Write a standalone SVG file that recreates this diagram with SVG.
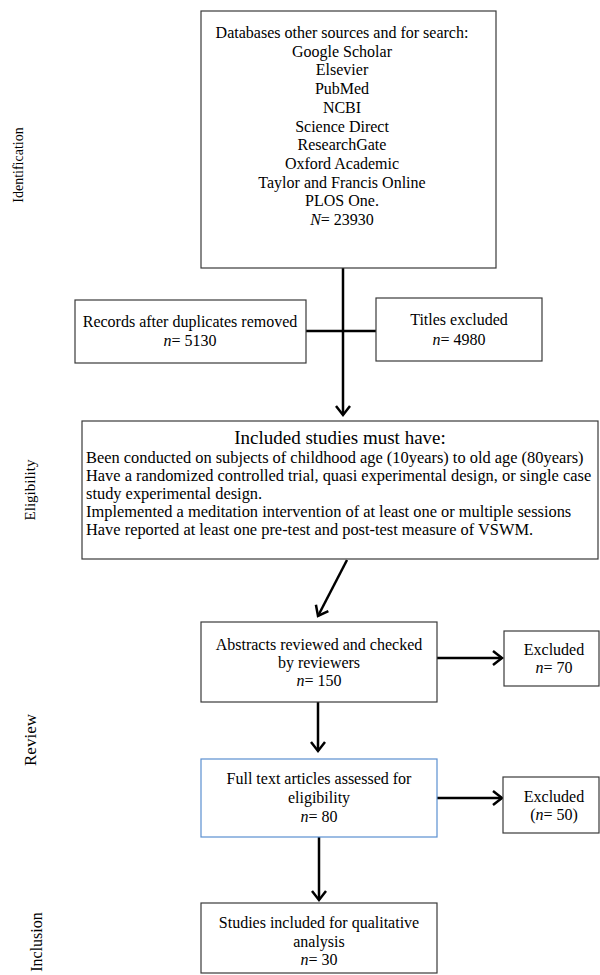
<svg xmlns="http://www.w3.org/2000/svg" width="600" height="975" viewBox="0 0 600 975">
<style>
text{font-family:"Liberation Serif","Times New Roman",serif;fill:#000;}
.t{font-size:16px;text-anchor:middle;}
.l{font-size:16.4px;}
.h{font-size:19px;text-anchor:middle;}
.side{text-anchor:middle;}
.box{fill:#fff;stroke:#3a3a3a;stroke-width:1.2;}
.blue{fill:#fff;stroke:#5b8fd0;stroke-width:1.2;}
.c{stroke:#000;stroke-width:2.5;fill:none;}
</style>
<defs>
<marker id="arr" markerUnits="userSpaceOnUse" markerWidth="14" markerHeight="18" viewBox="0 0 14 18" refX="11" refY="9" orient="auto">
<path d="M2,2 L11,9 L2,16" fill="none" stroke="#000" stroke-width="2.5"/>
</marker>
</defs>
<rect width="600" height="975" fill="#fff"/>
<g id="labels">
<text class="side" font-size="14" transform="translate(23,165) rotate(-90)">Identification</text>
<text class="side" font-size="15" transform="translate(35,490) rotate(-90)">Eligibility</text>
<text class="side" font-size="17" transform="translate(36,740) rotate(-90)">Review</text>
<text class="side" font-size="16" transform="translate(42,942) rotate(-90)">Inclusion</text>
</g>
<g id="connectors">
<line class="c" x1="343" y1="268" x2="343" y2="415" marker-end="url(#arr)"/>
<line class="c" x1="306" y1="331" x2="376" y2="331"/>
<line class="c" x1="347" y1="560" x2="318" y2="616" marker-end="url(#arr)"/>
<line class="c" x1="437" y1="658" x2="502" y2="658" marker-end="url(#arr)"/>
<line class="c" x1="318" y1="702" x2="318" y2="751" marker-end="url(#arr)"/>
<line class="c" x1="437" y1="798" x2="502" y2="798" marker-end="url(#arr)"/>
<line class="c" x1="319" y1="837" x2="319" y2="900" marker-end="url(#arr)"/>
</g>
<g id="n-databases">
<rect class="box" x="201" y="11" width="295" height="257"/>
<text class="t" x="342" y="38">Databases other sources and for search:</text>
<text class="t" x="342" y="56.7">Google Scholar</text>
<text class="t" x="342" y="75.4">Elsevier</text>
<text class="t" x="342" y="94.1">PubMed</text>
<text class="t" x="342" y="112.8">NCBI</text>
<text class="t" x="342" y="131.5">Science Direct</text>
<text class="t" x="342" y="150.2">ResearchGate</text>
<text class="t" x="342" y="168.9">Oxford Academic</text>
<text class="t" x="342" y="187.6">Taylor and Francis Online</text>
<text class="t" x="342" y="206.3">PLOS One.</text>
<text class="t" x="342" y="225"><tspan font-style="italic">N</tspan>= 23930</text>
</g>
<g id="n-records">
<rect class="box" x="75" y="300" width="231" height="63"/>
<text class="t" x="190" y="327">Records after duplicates removed</text>
<text class="t" x="190" y="346"><tspan font-style="italic">n</tspan>= 5130</text>
</g>
<g id="n-titles">
<rect class="box" x="376" y="298" width="166" height="63"/>
<text class="t" x="459" y="325">Titles excluded</text>
<text class="t" x="459" y="345"><tspan font-style="italic">n</tspan>= 4980</text>
</g>
<g id="n-eligibility">
<rect class="box" x="82" y="421" width="516" height="138"/>
<text class="h" x="340" y="444">Included studies must have:</text>
<text class="l" x="86" y="463">Been conducted on subjects of childhood age (10years) to old age (80years)</text>
<text class="l" x="86" y="481">Have a randomized controlled trial, quasi experimental design, or single case</text>
<text class="l" x="86" y="499">study experimental design.</text>
<text class="l" x="86" y="517">Implemented a meditation intervention of at least one or multiple sessions</text>
<text class="l" x="86" y="535">Have reported at least one pre-test and post-test measure of VSWM.</text>
</g>
<g id="n-abstracts">
<rect class="box" x="201" y="622" width="236" height="80"/>
<text class="t" x="319" y="650">Abstracts reviewed and checked</text>
<text class="t" x="319" y="668">by reviewers</text>
<text class="t" x="319" y="686"><tspan font-style="italic">n</tspan>= 150</text>
</g>
<g id="n-excluded70">
<rect class="box" x="504" y="631" width="95" height="55"/>
<text class="t" x="554" y="655">Excluded</text>
<text class="t" x="554" y="673"><tspan font-style="italic">n</tspan>= 70</text>
</g>
<g id="n-fulltext">
<rect class="blue" x="201" y="759" width="236" height="78"/>
<text class="t" x="319" y="784">Full text articles assessed for</text>
<text class="t" x="319" y="803">eligibility</text>
<text class="t" x="319" y="822"><tspan font-style="italic">n</tspan>= 80</text>
</g>
<g id="n-excluded50">
<rect class="box" x="503" y="777" width="96" height="56"/>
<text class="t" x="554" y="802">Excluded</text>
<text class="t" x="554" y="820">(<tspan font-style="italic">n</tspan>= 50)</text>
</g>
<g id="n-studies">
<rect class="box" x="201" y="903" width="236" height="70"/>
<text class="t" x="319" y="928">Studies included for qualitative</text>
<text class="t" x="319" y="947">analysis</text>
<text class="t" x="319" y="965"><tspan font-style="italic">n</tspan>= 30</text>
</g>
</svg>
